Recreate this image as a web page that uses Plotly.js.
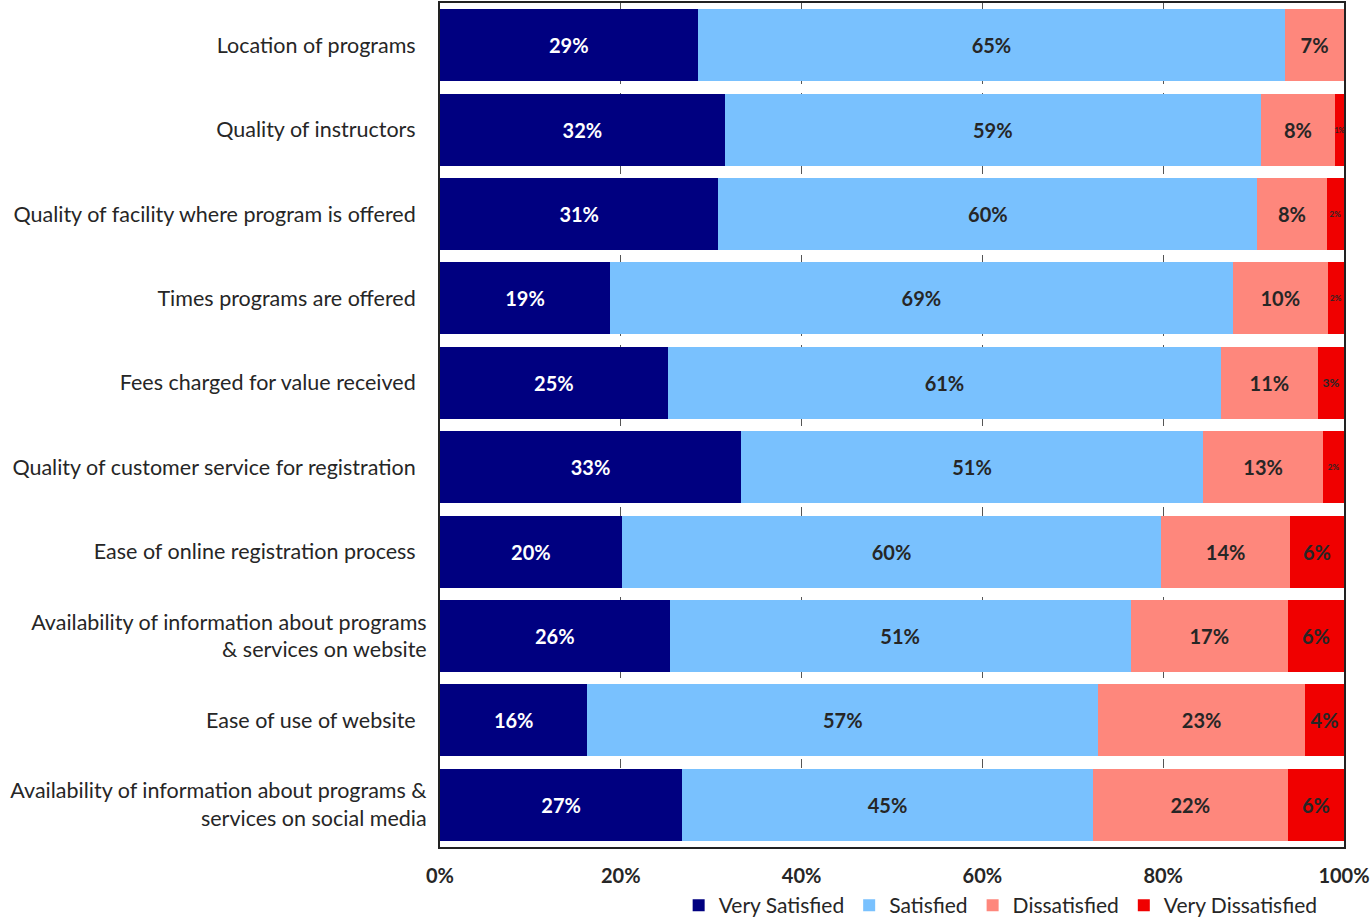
<!DOCTYPE html>
<html>
<head>
<meta charset="utf-8">
<script src="https://cdn.plot.ly/plotly-3.0.1.min.js"></script>
<style>html,body{margin:0;padding:0;background:#fff;}#chart{width:1372px;height:919px;}</style>
</head>
<body>
<div id="chart"></div>
<script>
// Categories (top to bottom)
var categories = [
  "Location of programs\u00A0\u00A0",
  "Quality of instructors\u00A0\u00A0",
  "Quality of facility where program is offered\u00A0\u00A0",
  "Times programs are offered\u00A0\u00A0",
  "Fees charged for value received\u00A0\u00A0",
  "Quality of customer service for registration\u00A0\u00A0",
  "Ease of online registration process\u00A0\u00A0",
  "Availability of information about programs<br>& services on website",
  "Ease of use of website\u00A0\u00A0",
  "Availability of information about programs &<br>services on social media"
];
// Series values (percent)
var verySatisfied    = [28.5, 31.5, 30.8, 18.8, 25.2, 33.3, 20.1, 25.4, 16.3, 26.8];
var satisfied        = [65.0, 59.3, 59.6, 68.9, 61.2, 51.1, 59.7, 51.0, 56.5, 45.4];
var dissatisfied     = [ 6.5,  8.2,  7.7, 10.5, 10.7, 13.3, 14.2, 17.4, 22.9, 21.6];
var veryDissatisfied = [ 0.0,  1.0,  1.9,  1.8,  2.9,  2.3,  6.0,  6.2,  4.3,  6.2];
// Data labels as shown
var verySatisfiedLabels    = ["29%","32%","31%","19%","25%","33%","20%","26%","16%","27%"];
var satisfiedLabels        = ["65%","59%","60%","69%","61%","51%","60%","51%","57%","45%"];
var dissatisfiedLabels     = ["7%","8%","8%","10%","11%","13%","14%","17%","23%","22%"];
var veryDissatisfiedLabels = ["","1%","2%","2%","3%","2%","6%","6%","4%","6%"];
var vdLabelSizes = [20, 7, 8, 8, 12, 8, 20, 20, 20, 20];

var labelFont = "Lato, 'Open Sans', sans-serif";
function trace(name, vals, labels, color, txtColor, sizes) {
  return {
    type: 'bar', orientation: 'h', name: name,
    y: categories, x: vals, text: labels,
    textposition: 'inside', insidetextanchor: 'middle', constraintext: 'none', textangle: 0,
    textfont: {family: labelFont, size: sizes || 20, color: txtColor, weight: 'bold'},
    marker: {color: color, line: {width: 0}},
    hoverinfo: 'none'
  };
}
var data = [
  trace('Very Satisfied', verySatisfied, verySatisfiedLabels, '#000080', '#ffffff'),
  trace('Satisfied', satisfied, satisfiedLabels, '#79C1FE', '#262626'),
  trace('Dissatisfied', dissatisfied, dissatisfiedLabels, '#FE877C', '#262626'),
  trace('Very Dissatisfied', veryDissatisfied, veryDissatisfiedLabels, '#F00000', '#262626', vdLabelSizes)
];
var layout = {
  width: 1372, height: 919,
  margin: {l: 440, r: 28, t: 3, b: 72, pad: 0, autoexpand: false},
  barmode: 'stack', bargap: 0.147,
  paper_bgcolor: '#ffffff', plot_bgcolor: '#ffffff',
  font: {family: labelFont, color: '#262626', size: 21},
  showlegend: true,
  legend: {orientation: 'h', x: 0.264, xanchor: 'left', yref: 'container', y: 0.037, yanchor: 'top',
           traceorder: 'normal', font: {size: 21, color: '#262626'}, itemwidth: 30,
           tracegroupgap: 0, bgcolor: 'rgba(0,0,0,0)'},
  xaxis: {
    range: [0, 100], tickvals: [0, 20, 40, 60, 80, 100],
    ticktext: ['0%', '20%', '40%', '60%', '80%', '100%'],
    showgrid: true, gridcolor: '#555555', griddash: 'dash', gridwidth: 1,
    zeroline: false, showline: true, mirror: true, linecolor: '#222222', linewidth: 2,
    ticks: '', ticklabelstandoff: 10,
    tickfont: {family: labelFont, size: 20, color: '#262626', weight: 'bold'},
    fixedrange: true
  },
  yaxis: {
    type: 'category', autorange: 'reversed',
    showline: true, mirror: true, linecolor: '#222222', linewidth: 2,
    showgrid: false, zeroline: false, ticks: '', ticklabelstandoff: 7,
    tickfont: {family: labelFont, size: 21.5, color: '#262626'},
    fixedrange: true
  }
};
Plotly.newPlot('chart', data, layout, {displayModeBar: false, staticPlot: true});
</script>
</body>
</html>
